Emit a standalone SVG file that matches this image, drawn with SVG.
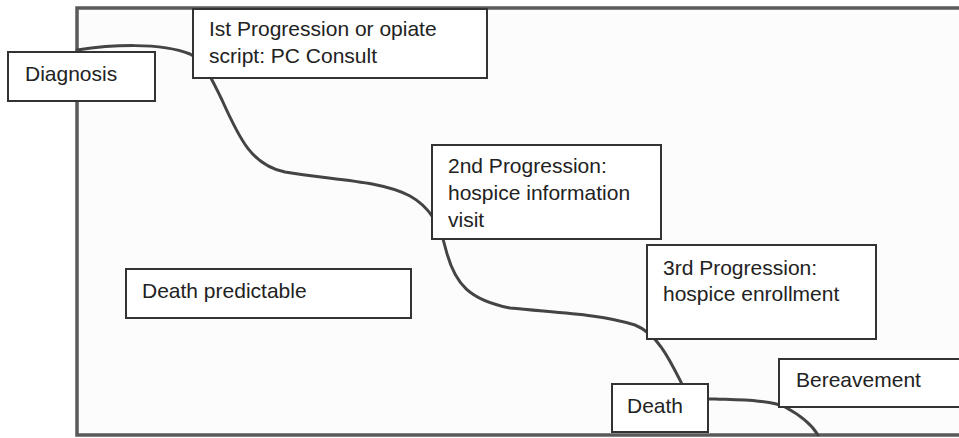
<svg xmlns="http://www.w3.org/2000/svg" width="959" height="438" viewBox="0 0 959 438">
<style>
.box{fill:#fff;stroke:#333;stroke-width:2}
.t{font-family:"Liberation Sans",Arial,Helvetica,sans-serif;font-size:21px;fill:#222}
.curve{fill:none;stroke:#444;stroke-width:3;stroke-linecap:round}
</style>
<rect width="959" height="438" fill="#fff"/>
<rect id="frame" x="77" y="8" width="900" height="427" fill="#fcfcfc" stroke="#5a5a5a" stroke-width="3.5"/>
<g id="connectors">
<path class="curve" d="M 77 50 C 110 45, 160 42, 190 54 C 205 62, 212 80, 222 100 C 240 140, 252 165, 285 172 C 330 180, 380 180, 410 196 C 430 207, 440 225, 446 250 C 455 285, 470 300, 510 308 C 560 313, 600 314, 635 325 C 660 335, 672 365, 685 390 C 693 400, 700 399, 715 399 C 740 400, 770 400, 785 407 C 800 415, 812 425, 818 435"/>
</g>
<g id="diagnosis">
<rect class="box" x="8" y="52" width="147" height="49"/>
<text class="t" x="25" y="81">Diagnosis</text>
</g>
<g id="first-progression">
<rect class="box" x="193" y="9" width="294" height="69"/>
<text class="t" x="209" y="36">Ist Progression or opiate</text>
<text class="t" x="209" y="63">script: PC Consult</text>
</g>
<g id="second-progression">
<rect class="box" x="432" y="145" width="229" height="94"/>
<text class="t" x="448" y="173">2nd Progression:</text>
<text class="t" x="448" y="200">hospice information</text>
<text class="t" x="448" y="227">visit</text>
</g>
<g id="death-predictable">
<rect class="box" x="126" y="269" width="285" height="49"/>
<text class="t" x="142" y="298">Death predictable</text>
</g>
<g id="third-progression">
<rect class="box" x="647" y="245" width="229" height="94"/>
<text class="t" x="663" y="275">3rd Progression:</text>
<text class="t" x="663" y="301">hospice enrollment</text>
</g>
<g id="death">
<rect class="box" x="612" y="384" width="96" height="48"/>
<text class="t" x="627" y="413">Death</text>
</g>
<g id="bereavement">
<rect class="box" x="779" y="359" width="200" height="48"/>
<text class="t" x="796" y="387">Bereavement</text>
</g>
</svg>
